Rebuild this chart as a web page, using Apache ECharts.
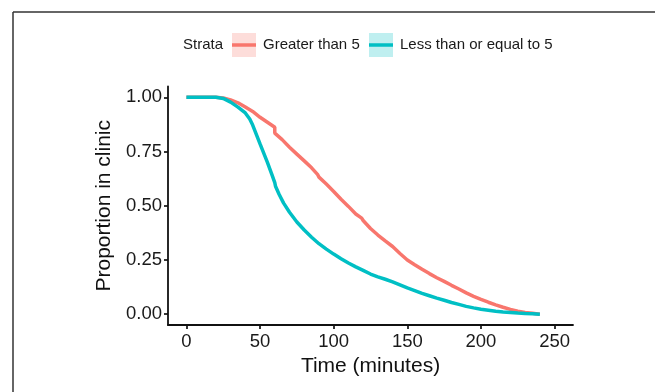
<!DOCTYPE html>
<html>
<head>
<meta charset="utf-8">
<script src="https://cdn.jsdelivr.net/npm/echarts@6/dist/echarts.min.js"></script>
<style>
html,body{margin:0;padding:0;background:#fff;}
#chart{width:655px;height:392px;}
</style>
</head>
<body>
<div id="chart"></div>
<script>
var seriesNames = ['Greater than 5', 'Less than or equal to 5'];
var legendTitle = 'Strata';
var xTicks = [0, 50, 100, 150, 200, 250];
var yTicks = [0, 0.25, 0.5, 0.75, 1];

var gtTimes = [0, 20, 25, 30, 35, 40, 45, 50, 55, 60, 60, 65, 70, 75, 80, 85, 89, 90, 95, 100, 105, 110, 115, 119, 120, 125, 130, 135, 140, 145, 150, 155, 160, 165, 170, 175, 180, 185, 190, 195, 200, 205, 210, 215, 220, 225, 230, 235, 240];
var gtSurv  = [1, 1, 0.997, 0.988, 0.975, 0.955, 0.935, 0.908, 0.885, 0.862, 0.835, 0.805, 0.77, 0.738, 0.707, 0.675, 0.645, 0.632, 0.6, 0.566, 0.53, 0.497, 0.462, 0.443, 0.432, 0.395, 0.365, 0.338, 0.312, 0.28, 0.25, 0.228, 0.207, 0.187, 0.168, 0.151, 0.133, 0.116, 0.098, 0.082, 0.068, 0.055, 0.043, 0.032, 0.022, 0.014, 0.008, 0.004, 0.0];

var leTimes = [0, 20, 25, 30, 35, 40, 43, 45, 50, 55, 58, 60, 60.5, 63, 66, 70, 75, 80, 85, 90, 95, 100, 105, 110, 115, 120, 125, 130, 135, 140, 145, 150, 155, 160, 165, 170, 175, 180, 185, 190, 195, 200, 205, 210, 215, 220, 225, 230, 235, 240];
var leSurv  = [1, 1, 0.995, 0.978, 0.955, 0.928, 0.9, 0.872, 0.785, 0.7, 0.645, 0.607, 0.59, 0.552, 0.512, 0.47, 0.425, 0.388, 0.355, 0.325, 0.3, 0.277, 0.256, 0.236, 0.218, 0.202, 0.185, 0.172, 0.161, 0.149, 0.135, 0.121, 0.109, 0.096, 0.085, 0.074, 0.064, 0.054, 0.045, 0.036, 0.029, 0.023, 0.018, 0.013, 0.01, 0.008, 0.005, 0.003, 0.002, 0.0];

var colors = ['#F8766D', '#00BFC4'];
var fills = ['rgba(248,118,109,0.25)', 'rgba(0,191,196,0.25)'];

function pairs(t, s) { return t.map(function (v, i) { return [v, s[i]]; }); }

var FONT = '"Liberation Sans", Arial, Helvetica, sans-serif';
var chart = echarts.init(document.getElementById('chart'));

var option = {
  animation: false,
  backgroundColor: '#fff',
  textStyle: { fontFamily: FONT },
  grid: { left: 168, right: 82, top: 86.5, bottom: 67, containLabel: false },
  legend: [
    {
      left: 232, top: 33, padding: 0, itemWidth: 24, itemHeight: 24, itemGap: 10,
      icon: 'rect', selectedMode: false,
      textStyle: { fontSize: 15, color: '#1a1a1a', fontFamily: FONT, padding: [0, 0, 0, 2] },
      data: [{ name: seriesNames[0], itemStyle: { color: fills[0] } }]
    },
    {
      left: 369, top: 33, padding: 0, itemWidth: 24, itemHeight: 24, itemGap: 10,
      icon: 'rect', selectedMode: false,
      textStyle: { fontSize: 15, color: '#1a1a1a', fontFamily: FONT, padding: [0, 0, 0, 2] },
      data: [{ name: seriesNames[1], itemStyle: { color: fills[1] } }]
    }
  ],
  graphic: [
    { type: 'text', left: 183, top: 37, z: 100, style: { text: legendTitle, fontSize: 15, fill: '#1a1a1a', fontFamily: FONT } },
    { type: 'line', z: 100, shape: { x1: 232, y1: 45, x2: 256, y2: 45 }, style: { stroke: colors[0], lineWidth: 3.5 } },
    { type: 'line', z: 100, shape: { x1: 369, y1: 45, x2: 393, y2: 45 }, style: { stroke: colors[1], lineWidth: 3.5 } },
    { type: 'line', z: 100, shape: { x1: 13, y1: 12, x2: 655, y2: 12 }, style: { stroke: '#333', lineWidth: 1.5 } },
    { type: 'line', z: 100, shape: { x1: 13, y1: 12, x2: 13, y2: 392 }, style: { stroke: '#333', lineWidth: 1.5 } }
  ],
  xAxis: {
    type: 'value', min: -12.5, max: 262.5,
    name: 'Time (minutes)', nameLocation: 'middle', nameGap: 26,
    nameTextStyle: { fontSize: 21, color: '#111', fontFamily: FONT },
    splitLine: { show: false },
    axisLine: { show: true, onZero: false, lineStyle: { color: '#111', width: 1.8 } },
    axisTick: { show: true, length: 4, customValues: xTicks, lineStyle: { color: '#111', width: 1.7 } },
    axisLabel: { customValues: xTicks, fontSize: 18.5, color: '#1a1a1a', margin: 7, fontFamily: FONT }
  },
  yAxis: {
    type: 'value', min: -0.05, max: 1.05,
    name: 'Proportion in clinic', nameLocation: 'middle', nameGap: 48, nameRotate: 90,
    nameTextStyle: { fontSize: 21, color: '#111', fontFamily: FONT },
    splitLine: { show: false },
    axisLine: { show: true, onZero: false, lineStyle: { color: '#111', width: 1.8 } },
    axisTick: { show: true, length: 4, customValues: yTicks, lineStyle: { color: '#111', width: 1.7 } },
    axisLabel: { customValues: yTicks, fontSize: 18.5, color: '#1a1a1a', margin: 6, fontFamily: FONT,
      formatter: function (v) { return v.toFixed(2); } }
  },
  series: [
    { name: seriesNames[0], type: 'line', data: pairs(gtTimes, gtSurv), showSymbol: false, symbol: 'none',
      itemStyle: { color: colors[0] }, lineStyle: { color: colors[0], width: 3.5 }, z: 2 },
    { name: seriesNames[1], type: 'line', data: pairs(leTimes, leSurv), showSymbol: false, symbol: 'none',
      itemStyle: { color: colors[1] }, lineStyle: { color: colors[1], width: 3.5 }, z: 3 }
  ]
};
chart.setOption(option);
</script>
</body>
</html>
